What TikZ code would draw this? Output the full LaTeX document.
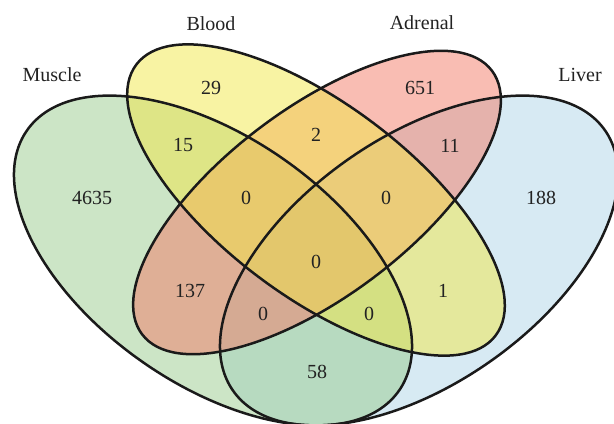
\documentclass[tikz,border=0pt]{standalone}
\usepackage{fontspec}
\setmainfont{Liberation Serif}
\definecolor{musclegreen}{HTML}{99CB8D}
\definecolor{bloodyellow}{HTML}{F1E747}
\definecolor{adrenalred}{HTML}{F37B67}
\definecolor{liverblue}{HTML}{AFD5E7}
\definecolor{outline}{HTML}{1A1A1A}
\definecolor{labeltext}{HTML}{222222}

\begin{document}
\begin{tikzpicture}[
    x=0.5pt, y=-0.5pt,
    set/.style={fill opacity=0.5},
    rim/.style={draw=outline, line width=1.25pt},
    count/.style={font=\fontsize{10}{12}\selectfont, text=labeltext, inner sep=0pt},
    setname/.style={font=\fontsize{10}{12}\selectfont, text=labeltext, inner sep=0pt},
]
    \useasboundingbox (0,0) rectangle (614,423);
    \clip (0,0) rectangle (614,423);

    % Sets
    \fill[set, liverblue]   (419,260.5) ellipse [x radius=227, y radius=123.5, rotate=35];
    \fill[set, musclegreen] (213,260.5) ellipse [x radius=227, y radius=123.5, rotate=-35];
    \fill[set, adrenalred]  (317,202.5) ellipse [x radius=219, y radius=94, rotate=37];
    \fill[set, bloodyellow] (316,200) ellipse [x radius=225, y radius=96, rotate=-37];

    % Outlines
    \draw[rim] (419,260.5) ellipse [x radius=227, y radius=123.5, rotate=35];
    \draw[rim] (213,260.5) ellipse [x radius=227, y radius=123.5, rotate=-35];
    \draw[rim] (317,202.5) ellipse [x radius=219, y radius=94, rotate=37];
    \draw[rim] (316,200) ellipse [x radius=225, y radius=96, rotate=-37];

    % Set names
    \node[setname] (muscle)  at (52,75)  {Muscle};
    \node[setname] (blood)   at (211,24) {Blood};
    \node[setname] (adrenal) at (422,23) {Adrenal};
    \node[setname] (liver)   at (580,75) {Liver};

    % Counts
    \node[count] (b)    at (211,88)  {29};
    \node[count] (a)    at (420,88)  {651};
    \node[count] (m)    at (92,198)  {4635};
    \node[count] (l)    at (541,198) {188};
    \node[count] (mb)   at (183,145) {15};
    \node[count] (ba)   at (316,135) {2};
    \node[count] (al)   at (450,146) {11};
    \node[count] (mba)  at (246,198) {0};
    \node[count] (bal)  at (386,198) {0};
    \node[count] (mbal) at (316,262) {0};
    \node[count] (ma)   at (190,291) {137};
    \node[count] (bl)   at (443,291) {1};
    \node[count] (mal)  at (263,314) {0};
    \node[count] (mbl)  at (369,314) {0};
    \node[count] (ml)   at (317,372) {58};
\end{tikzpicture}
\end{document}
